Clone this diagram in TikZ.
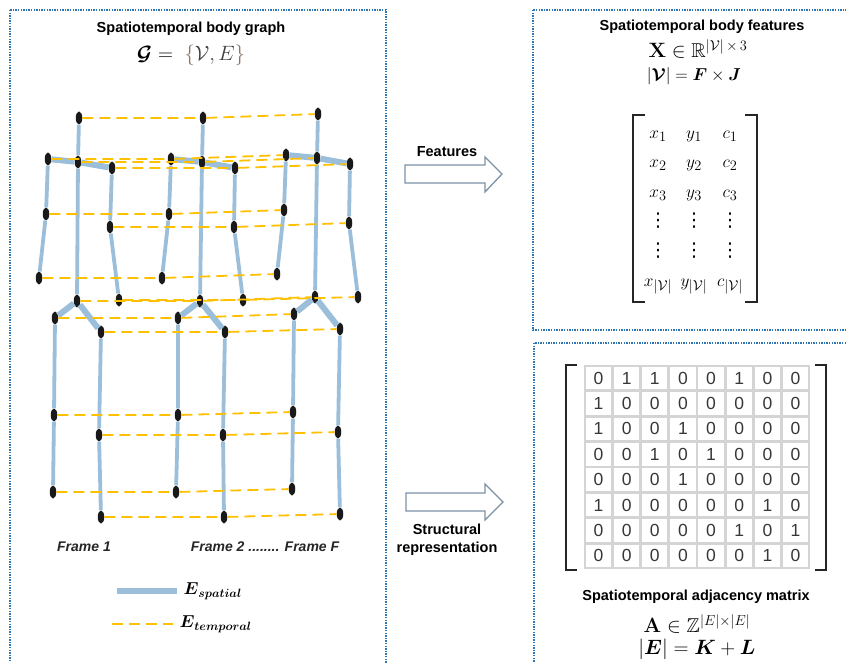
\documentclass[tikz,border=0pt]{standalone}
\usepackage{amsmath,amssymb}
\usepackage[no-math]{fontspec}
\setmainfont{Liberation Sans}
\newfontfamily\symfont{DejaVu Sans}
\usepackage{color}
\usetikzlibrary{matrix,positioning,shapes.geometric}

\definecolor{spatialblue}{RGB}{155,190,218}
\definecolor{temporalyellow}{RGB}{255,192,0}
\definecolor{panelblue}{RGB}{46,117,182}
\definecolor{arrowgray}{RGB}{125,145,165}
\definecolor{bracebrown}{RGB}{140,118,105}
\definecolor{gridgray}{RGB}{212,212,212}
\definecolor{digitgray}{RGB}{55,55,55}

\newcommand{\colvdots}{\hbox{\symfont ⋮}}

\begin{document}
\begin{tikzpicture}
    [x=1pt, y=-1pt,
    joint/.style={ellipse, fill=black!90, inner sep=0pt, minimum width=6.5pt, minimum height=13pt},
    spatial/.style={spatialblue, line width=3.8pt},
    girdle/.style={spatialblue, line width=6pt},
    temporal/.style={temporalyellow, line width=1.8pt, dash pattern=on 11pt off 6pt},
    panel/.style={panelblue, line width=1.3pt, dash pattern=on 1.4pt off 1.2pt},
    heading/.style={font=\fontsize{14.5}{18}\selectfont\bfseries},
    framelabel/.style={font=\fontsize{14}{16}\selectfont\bfseries\itshape, text=black!85},
    formula/.style={font=\fontsize{20}{24}\selectfont},
    blockarrow/.style={draw=arrowgray, line width=1.3pt, fill=white},
    bracket/.style={black!85, line width=1.8pt}]
        \useasboundingbox (0,0) rectangle (846,663);

        %% Panels
        \draw[panel] (10,10) rectangle (386,680);
        \draw[panel] (533,10) rectangle (860,330);
        \draw[panel] (534,343) rectangle (860,680);

        %% Graph G
        \node[heading] (gtitle) at (191,29) {Spatiotemporal body graph};
        \node[font=\fontsize{21}{25}\selectfont] (gmath) at (191,55) {$\boldsymbol{\mathcal{G}} = \ \textcolor{bracebrown}{\{}\textcolor{black!75}{\mathcal{V}, E}\textcolor{bracebrown}{\}}$};

        %% Frame 1
        \node[joint] (h1) at (79,118) {};
        \node[joint] (n1) at (78,162) {};
        \node[joint] (ls1) at (48,159) {};
        \node[joint] (rs1) at (112,168) {};
        \node[joint] (le1) at (46,214) {};
        \node[joint] (re1) at (110,227) {};
        \node[joint] (lw1) at (39,278) {};
        \node[joint] (rw1) at (119,300) {};
        \node[joint] (p1) at (77,301) {};
        \node[joint] (lh1) at (55,318) {};
        \node[joint] (rh1) at (101,332) {};
        \node[joint] (lk1) at (54,415) {};
        \node[joint] (rk1) at (99,435) {};
        \node[joint] (la1) at (53,492) {};
        \node[joint] (ra1) at (101,517) {};

        %% Frame 2
        \node[joint] (h2) at (203,118) {};
        \node[joint] (n2) at (202,162) {};
        \node[joint] (ls2) at (171,159) {};
        \node[joint] (rs2) at (235,168) {};
        \node[joint] (le2) at (169,214) {};
        \node[joint] (re2) at (234,227) {};
        \node[joint] (lw2) at (162,278) {};
        \node[joint] (rw2) at (243,300) {};
        \node[joint] (p2) at (200,301) {};
        \node[joint] (lh2) at (178,318) {};
        \node[joint] (rh2) at (225,332) {};
        \node[joint] (lk2) at (178,415) {};
        \node[joint] (rk2) at (223,435) {};
        \node[joint] (la2) at (176,492) {};
        \node[joint] (ra2) at (224,517) {};

        %% Frame F
        \node[joint] (hF) at (318,114) {};
        \node[joint] (nF) at (317,158) {};
        \node[joint] (lsF) at (286,155) {};
        \node[joint] (rsF) at (350,164) {};
        \node[joint] (leF) at (284,210) {};
        \node[joint] (reF) at (349,223) {};
        \node[joint] (lwF) at (277,274) {};
        \node[joint] (rwF) at (358,297) {};
        \node[joint] (pF) at (315,297) {};
        \node[joint] (lhF) at (294,314) {};
        \node[joint] (rhF) at (340,329) {};
        \node[joint] (lkF) at (293,412) {};
        \node[joint] (rkF) at (338,432) {};
        \node[joint] (laF) at (292,489) {};
        \node[joint] (raF) at (340,514) {};

        %% spatial edges
        \draw[spatial] (h1) -- (n1) -- (p1) (ls1) -- (le1) -- (lw1) (rs1) -- (re1) -- (rw1)
            (lh1) -- (lk1) -- (la1) (rh1) -- (rk1) -- (ra1);
        \draw[girdle] (ls1) -- (n1) -- (rs1) (lh1) -- (p1) -- (rh1);
        \draw[spatial] (h2) -- (n2) -- (p2) (ls2) -- (le2) -- (lw2) (rs2) -- (re2) -- (rw2)
            (lh2) -- (lk2) -- (la2) (rh2) -- (rk2) -- (ra2);
        \draw[girdle] (ls2) -- (n2) -- (rs2) (lh2) -- (p2) -- (rh2);
        \draw[spatial] (hF) -- (nF) -- (pF) (lsF) -- (leF) -- (lwF) (rsF) -- (reF) -- (rwF)
            (lhF) -- (lkF) -- (laF) (rhF) -- (rkF) -- (raF);
        \draw[girdle] (lsF) -- (nF) -- (rsF) (lhF) -- (pF) -- (rhF);

        %% temporal edges
        \draw[temporal] (h1) -- (h2) -- (hF);
        \draw[temporal] (n1) -- (n2) -- (nF);
        \draw[temporal] (ls1) -- (ls2) -- (lsF);
        \draw[temporal] (rs1) -- (rs2) -- (rsF);
        \draw[temporal] (le1) -- (le2) -- (leF);
        \draw[temporal] (re1) -- (re2) -- (reF);
        \draw[temporal] (lw1) -- (lw2) -- (lwF);
        \draw[temporal] (rw1) -- (rw2) -- (rwF);
        \draw[temporal] (p1) -- (p2) -- (pF);
        \draw[temporal] (lh1) -- (lh2) -- (lhF);
        \draw[temporal] (rh1) -- (rh2) -- (rhF);
        \draw[temporal] (lk1) -- (lk2) -- (lkF);
        \draw[temporal] (rk1) -- (rk2) -- (rkF);
        \draw[temporal] (la1) -- (la2) -- (laF);
        \draw[temporal] (ra1) -- (ra2) -- (raF);

        \node[framelabel] (f1) at (84,547) {Frame 1};
        \node[framelabel] (fF) at (265,547) {Frame 2 ........ Frame F};

        %% Legend
        \coordinate (sa) at (117,591);
        \coordinate (sb) at (177,591);
        \draw[spatial, line width=6pt] (sa) -- (sb);
        \node[right=3pt of sb, font=\fontsize{18.5}{20}\selectfont] (es) {$\boldsymbol{E}_{\boldsymbol{spatial}}$};
        \coordinate (ta) at (112,624);
        \coordinate (tb) at (173,624);
        \draw[temporal] (ta) -- (tb);
        \node[right=3pt of tb, font=\fontsize{18.5}{20}\selectfont] (et) {$\boldsymbol{E}_{\boldsymbol{temporal}}$};

        %% Arrows
        \draw[blockarrow] (405,165) -- (485,165) -- (485,157) -- (502,174) -- (485,192) -- (485,183) -- (405,183) -- cycle;
        \node[heading] (feat) at (447,152) {Features};
        \draw[blockarrow] (406,493) -- (485,493) -- (485,484) -- (503,502) -- (485,520) -- (485,511) -- (406,511) -- cycle;
        \node[heading, align=center] (struct) at (447,540) {Structural\\representation};

        %% Features X
        \node[heading] (xtitle) at (702,27) {Spatiotemporal body features};
        \node[formula] (xmath) at (698,49) {$\mathbf{X} \in \mathbb{R}^{|\mathcal{V}|\,\times\,3}$};
        \node[font=\fontsize{19}{22}\selectfont] (vmath) at (694,76) {$|\boldsymbol{\mathcal{V}}| = \boldsymbol{F}\times\boldsymbol{J}$};
        \matrix (X) [matrix of math nodes, font=\fontsize{19}{22}\selectfont,
            nodes={inner sep=0pt, text height=10pt, text depth=4pt, text width=32pt, align=center},
            row sep=15.6pt, column sep=4pt] at (694,209) {
            x_1 & y_1 & c_1 \\
            x_2 & y_2 & c_2 \\
            x_3 & y_3 & c_3 \\
            \colvdots & \colvdots & \colvdots \\
            \colvdots & \colvdots & \colvdots \\
            x_{|\mathcal{V}|} & y_{|\mathcal{V}|} & c_{|\mathcal{V}|} \\
        };
        \draw[bracket, line width=1.5pt] (645,115) -- (633,115) -- (633,302) -- (645,302);
        \draw[bracket, line width=1.5pt] (745,115) -- (757,115) -- (757,302) -- (745,302);

        %% Adjacency A
        \matrix (A) [matrix of nodes,
            nodes={draw=gridgray, line width=1.4pt, outer sep=0pt, inner sep=0pt, minimum width=26.75pt,
                minimum height=24pt, text=digitgray, font=\fontsize{17.5}{17.5}\selectfont},
            row sep=0pt, column sep=0pt] at (697,467) {
            0 & 1 & 1 & 0 & 0 & 1 & 0 & 0 \\
            1 & 0 & 0 & 0 & 0 & 0 & 0 & 0 \\
            1 & 0 & 0 & 1 & 0 & 0 & 0 & 0 \\
            0 & 0 & 1 & 0 & 1 & 0 & 0 & 0 \\
            0 & 0 & 0 & 1 & 0 & 0 & 0 & 0 \\
            1 & 0 & 0 & 0 & 0 & 0 & 1 & 0 \\
            0 & 0 & 0 & 0 & 0 & 1 & 0 & 1 \\
            0 & 0 & 0 & 0 & 0 & 0 & 1 & 0 \\
        };
        \draw[bracket] (577,365) -- (566,365) -- (566,570) -- (577,570);
        \draw[bracket] (815,365) -- (826,365) -- (826,570) -- (815,570);
        \node[heading] (atitle) at (696,597) {Spatiotemporal adjacency matrix};
        \node[formula] (amath) at (697,624) {$\mathbf{A} \in \mathbb{Z}^{|E|\times|E|}$};
        \node[formula] (emath) at (697,649) {$|\boldsymbol{E}| = \boldsymbol{K} + \boldsymbol{L}$};
    \end{tikzpicture}
\end{document}
